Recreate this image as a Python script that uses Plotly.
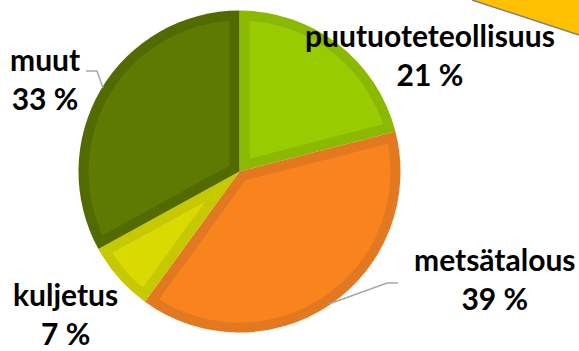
import math
import plotly.graph_objects as go

# Share of each sector (percent), clockwise from 12 o'clock
categories = ["puutuoteteollisuus", "metsätalous", "kuljetus", "muut"]
shares = [21, 39, 7, 33]

fill_colors = ["#99CC00", "#F9841E", "#D9DB00", "#5E7A00"]
band_colors = ["#8BB800", "#E2781F", "#C6C800", "#526B00"]

W, H = 579, 351
cx, cy = 239.5, 171.5      # pie centre in px
R = 161                    # pie radius in px
band = 10                  # width of the darker rim on each slice


def px(x):
    return x / W


def py(y):
    return 1 - y / H


fig = go.Figure()

# the pie itself, in the rim colours
fig.add_trace(go.Pie(
    labels=categories,
    values=shares,
    sort=False,
    direction="clockwise",
    rotation=0,
    textinfo="none",
    hoverinfo="label+percent",
    showlegend=False,
    marker=dict(colors=band_colors, line=dict(width=0)),
    domain=dict(x=[px(cx - R), px(cx + R)],
                y=[py(cy + R), py(cy - R)]),
))

shapes = []

# lighter inner face of every slice, inset by the rim width
total = sum(shares)
acc = 0
for share, col in zip(shares, fill_colors):
    a0 = acc / total * 2 * math.pi
    a1 = (acc + share) / total * 2 * math.pi
    acc += share
    half = (a1 - a0) / 2
    mid = a0 + half
    d = band / math.sin(half)
    rr = R - band
    dl = math.asin(band / rr)
    pts = [(cx + d * math.sin(mid), cy - d * math.cos(mid))]
    n = 80
    for k in range(n + 1):
        t = (a0 + dl) + (a1 - a0 - 2 * dl) * k / n
        pts.append((cx + rr * math.sin(t), cy - rr * math.cos(t)))
    path = "M " + " L ".join(f"{px(x):.5f},{py(y):.5f}" for x, y in pts) + " Z"
    shapes.append(dict(type="path", xref="paper", yref="paper", path=path,
                       fillcolor=col, line=dict(width=0), layer="above"))

# label block centres (px)
label_pos = {
    "puutuoteteollisuus": (430, 54),
    "metsätalous": (495, 278),
    "kuljetus": (65, 313),
    "muut": (45, 78),
}

annotations = []
for name, val in zip(categories, shares):
    x, y = label_pos[name]
    annotations.append(dict(
        x=px(x), y=py(y), xref="paper", yref="paper",
        text=f"{name}<br>{val} %", showarrow=False,
        xanchor="center", yanchor="middle", align="center",
        font=dict(family="Lato", size=30, color="#000000", weight="bold"),
    ))

leader_lines = [
    [(86, 71), (97, 71), (103, 88)],
    [(398, 283), (387, 283), (329, 304)],
]
for pts in leader_lines:
    path = "M " + " L ".join(f"{px(x)},{py(y)}" for x, y in pts)
    shapes.append(dict(type="path", xref="paper", yref="paper", path=path,
                       line=dict(color="#A6A6A6", width=1.5), layer="above"))

# decorative corner triangle
tri = [(472, 0), (579, 35), (579, 0)]
shapes.append(dict(type="path", xref="paper", yref="paper",
                   path="M " + " L ".join(f"{px(x)},{py(y)}" for x, y in tri) + " Z",
                   fillcolor="#FFC000", line=dict(width=0), layer="below"))
shapes.append(dict(type="line", xref="paper", yref="paper",
                   x0=px(472), y0=py(0), x1=px(579), y1=py(35),
                   line=dict(color="#7F7F7F", width=1.5)))

fig.update_layout(
    width=W, height=H,
    margin=dict(l=0, r=0, t=0, b=0),
    paper_bgcolor="#FFFFFF",
    plot_bgcolor="#FFFFFF",
    annotations=annotations,
    shapes=shapes,
)

fig.write_html("out.html")
